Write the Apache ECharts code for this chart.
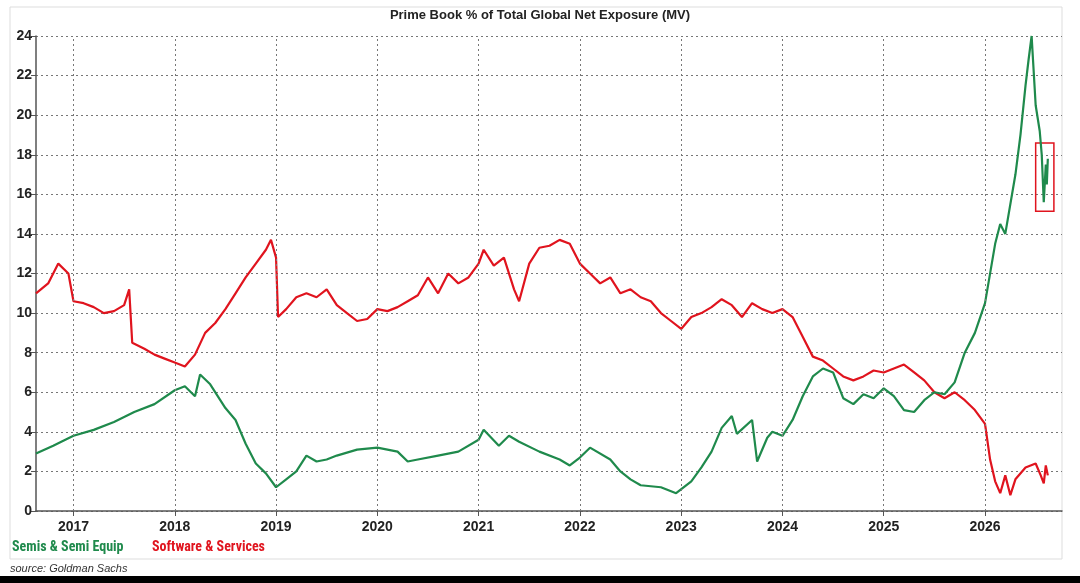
<!DOCTYPE html><html><head><meta charset="utf-8">
<script src="https://cdn.jsdelivr.net/npm/echarts@6/dist/echarts.min.js"></script>
<style>html,body{margin:0;background:#fff}#c{width:1080px;height:583px}</style></head><body><div id="c"></div>
<script>
const years=[2017,2018,2019,2020,2021,2022,2023,2024,2025,2026];
const yTicks=[0,2,4,6,8,10,12,14,16,18,20,22,24];
const softT=[2016.63,2016.75,2016.85,2016.95,2017.0,2017.1,2017.2,2017.3,2017.4,2017.5,2017.55,2017.58,2017.7,2017.8,2017.9,2018.0,2018.1,2018.2,2018.3,2018.4,2018.5,2018.6,2018.7,2018.8,2018.9,2018.95,2019.0,2019.02,2019.1,2019.2,2019.3,2019.4,2019.5,2019.6,2019.7,2019.8,2019.9,2020.0,2020.1,2020.2,2020.3,2020.4,2020.5,2020.6,2020.7,2020.8,2020.9,2021.0,2021.05,2021.15,2021.25,2021.35,2021.4,2021.5,2021.6,2021.7,2021.8,2021.9,2022.0,2022.1,2022.2,2022.3,2022.4,2022.5,2022.6,2022.7,2022.8,2022.9,2023.0,2023.1,2023.2,2023.3,2023.4,2023.5,2023.6,2023.7,2023.8,2023.9,2024.0,2024.1,2024.2,2024.3,2024.4,2024.5,2024.6,2024.7,2024.8,2024.9,2025.0,2025.1,2025.2,2025.3,2025.4,2025.5,2025.6,2025.7,2025.8,2025.9,2026.0,2026.05,2026.1,2026.15,2026.2,2026.25,2026.3,2026.4,2026.5,2026.55,2026.58,2026.6,2026.62];
const softV=[11.0,11.5,12.5,12.0,10.6,10.5,10.3,10.0,10.1,10.4,11.2,8.5,8.2,7.9,7.7,7.5,7.3,7.9,9.0,9.5,10.2,11.0,11.8,12.5,13.2,13.7,12.8,9.8,10.2,10.8,11.0,10.8,11.2,10.4,10.0,9.6,9.7,10.2,10.1,10.3,10.6,10.9,11.8,11.0,12.0,11.5,11.8,12.5,13.2,12.4,12.8,11.2,10.6,12.5,13.3,13.4,13.7,13.5,12.5,12.0,11.5,11.8,11.0,11.2,10.8,10.6,10.0,9.6,9.2,9.8,10.0,10.3,10.7,10.4,9.8,10.5,10.2,10.0,10.2,9.8,8.8,7.8,7.6,7.2,6.8,6.6,6.8,7.1,7.0,7.2,7.4,7.0,6.6,6.0,5.7,6.0,5.6,5.1,4.4,2.6,1.5,0.9,1.8,0.8,1.6,2.2,2.4,1.8,1.4,2.3,1.8];
const semiT=[2016.63,2016.8,2017.0,2017.2,2017.4,2017.6,2017.8,2018.0,2018.1,2018.2,2018.25,2018.35,2018.5,2018.6,2018.7,2018.8,2018.9,2019.0,2019.1,2019.2,2019.3,2019.4,2019.5,2019.6,2019.8,2020.0,2020.2,2020.3,2020.4,2020.6,2020.8,2021.0,2021.05,2021.2,2021.3,2021.4,2021.6,2021.8,2021.9,2022.0,2022.1,2022.3,2022.4,2022.5,2022.6,2022.8,2022.95,2023.1,2023.2,2023.3,2023.4,2023.5,2023.55,2023.7,2023.75,2023.85,2023.9,2024.0,2024.1,2024.2,2024.3,2024.4,2024.5,2024.6,2024.7,2024.8,2024.9,2025.0,2025.1,2025.2,2025.3,2025.4,2025.5,2025.6,2025.7,2025.8,2025.9,2026.0,2026.1,2026.15,2026.2,2026.3,2026.35,2026.4,2026.43,2026.46,2026.5,2026.54,2026.56,2026.58,2026.6,2026.61,2026.62];
const semiV=[2.9,3.3,3.8,4.1,4.5,5.0,5.4,6.1,6.3,5.8,6.9,6.4,5.2,4.6,3.4,2.4,1.9,1.2,1.6,2.0,2.8,2.5,2.6,2.8,3.1,3.2,3.0,2.5,2.6,2.8,3.0,3.6,4.1,3.3,3.8,3.5,3.0,2.6,2.3,2.7,3.2,2.6,2.0,1.6,1.3,1.2,0.9,1.5,2.2,3.0,4.2,4.8,3.9,4.6,2.5,3.7,4.0,3.8,4.6,5.8,6.8,7.2,7.0,5.7,5.4,5.9,5.7,6.2,5.8,5.1,5.0,5.6,6.0,5.9,6.5,8.0,9.0,10.5,13.5,14.5,14.0,17.0,19.0,21.5,22.8,24.0,20.5,19.2,18.0,15.6,17.5,16.5,17.8];
const zip=(t,v)=>t.map((x,i)=>[x,v[i]]);
const GREEN='#1f8a4c',RED='#e0141e';
const chart=echarts.init(document.getElementById('c'));
chart.setOption({
 animation:false,
 graphic:[
  {type:'rect',shape:{x:10,y:7,width:1052,height:552},style:{fill:'none',stroke:'#ddd',lineWidth:1}},
  {type:'text',left:'center',top:9,style:{text:'Prime Book % of Total Global Net Exposure (MV)',font:'bold 13px "Liberation Sans", Arial',fill:'#222'}},
  {type:'text',left:12,top:540,style:{text:'Semis & Semi Equip',font:'bold 14px "Roboto Condensed", "Liberation Sans Narrow", Arial',fill:GREEN}},
  {type:'text',left:152,top:540,style:{text:'Software & Services',font:'bold 14px "Roboto Condensed", "Liberation Sans Narrow", Arial',fill:RED}},
  {type:'text',left:10,top:563,style:{text:'source: Goldman Sachs',font:'italic 11px "Liberation Sans", Arial',fill:'#333'}},
  {type:'rect',shape:{x:0,y:576,width:1080,height:7},style:{fill:'#000'}}
 ],
 grid:{left:36,right:18,top:36,bottom:72},
 xAxis:{type:'value',min:2016.63,max:2026.76,
  axisLine:{show:true,onZero:false,lineStyle:{color:'#555',width:1.5}},
  axisTick:{show:true,customValues:years,length:5,lineStyle:{color:'#555'}},
  axisLabel:{customValues:years,formatter:v=>String(Math.round(v)),color:'#222',fontWeight:'bold',fontSize:14,margin:9},
  splitLine:{show:false}},
 yAxis:{type:'value',min:0,max:24,interval:2,
  axisLine:{show:true,lineStyle:{color:'#555',width:1.5}},
  axisTick:{show:true,length:5,lineStyle:{color:'#555'}},
  axisLabel:{color:'#222',fontWeight:'bold',fontSize:14,margin:4},
  splitLine:{show:true,lineStyle:{color:'#777',type:[2,3],width:1}}},
 series:[
  {type:'line',data:zip(softT,softV),symbol:'none',lineStyle:{color:RED,width:2.2},
   markLine:{silent:true,symbol:'none',label:{show:false},lineStyle:{color:'#777',type:[2,3],width:1},data:years.map(y=>({xAxis:y}))}},
  {type:'line',data:zip(semiT,semiV),symbol:'none',lineStyle:{color:GREEN,width:2.2},
   markArea:{silent:true,itemStyle:{color:'rgba(0,0,0,0)',borderColor:RED,borderWidth:1.5},data:[[{coord:[2026.5,18.6]},{coord:[2026.68,15.15]}]]}}
 ]
});
</script></body></html>
